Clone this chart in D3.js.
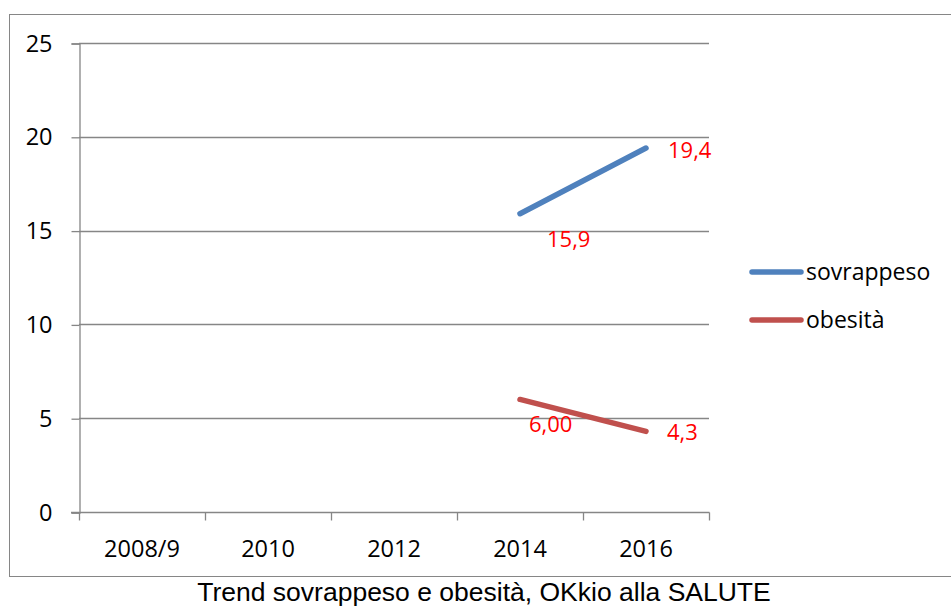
<!DOCTYPE html>
<html>
<head>
<meta charset="utf-8">
<script src="https://cdn.jsdelivr.net/npm/d3@7"></script>
<style>
  body { margin: 0; background: #fff; }
  svg { display: block; }
</style>
</head>
<body>
<script>
const years = ["2008/9", "2010", "2012", "2014", "2016"]
const sovrappeso = [null, null, null, 15.9, 19.4]
const obesita = [null, null, null, 6.0, 4.3]
const sovrLabels = [null, null, null, "15,9", "19,4"]
const obesLabels = [null, null, null, "6,00", "4,3"]
const yTicks = [0, 5, 10, 15, 20, 25]

const w = 951
const h = 606
const font = "'Open Sans', sans-serif"

const x = d3.scaleBand()
  .domain(years)
  .range([79, 709])

const y = d3.scaleLinear()
  .domain([0, 25])
  .range([512, 43])

const svg = d3.select("body")
  .append("svg")
  .attr("width", w)
  .attr("height", h)

// outer chart border
svg.append("rect")
  .attr("x", 9.5)
  .attr("y", 14.5)
  .attr("width", 945)
  .attr("height", 562)
  .attr("fill", "none")
  .attr("stroke", "#868686")
  .attr("stroke-width", 1)

// gridlines
svg.append("g")
  .selectAll("line")
  .data(yTicks.filter(d => d > 0))
  .enter()
  .append("line")
  .attr("x1", 79)
  .attr("x2", 709)
  .attr("y1", d => Math.round(y(d)) + 0.5)
  .attr("y2", d => Math.round(y(d)) + 0.5)
  .attr("stroke", "#868686")
  .attr("stroke-width", 1.3)

// y axis
const yAxis = d3.axisLeft(y).tickValues(yTicks).tickSize(8).tickPadding(19)
const gy = svg.append("g")
  .attr("transform", "translate(79.5,0.5)")
  .call(yAxis)
gy.select(".domain").attr("stroke", "#868686").attr("stroke-width", 1.3)
gy.selectAll(".tick line").attr("stroke", "#868686").attr("stroke-width", 1.3)
gy.selectAll("text")
  .attr("font-family", font)
  .attr("font-size", 23.5)
  .attr("fill", "#000")

// x axis (ticks on band boundaries)
const gx = svg.append("g")
  .attr("transform", "translate(0," + (y(0) + 0.5) + ")")
gx.append("line")
  .attr("x1", 71).attr("x2", 709.5)
  .attr("stroke", "#868686").attr("stroke-width", 1.3)
const bounds = years.map(d => x(d)).concat([x.range()[1]])
gx.selectAll(".tk")
  .data(bounds)
  .enter()
  .append("line")
  .attr("class", "tk")
  .attr("x1", d => Math.round(d) + 0.5)
  .attr("x2", d => Math.round(d) + 0.5)
  .attr("y1", 0)
  .attr("y2", 8)
  .attr("stroke", "#868686").attr("stroke-width", 1.3)
gx.selectAll("text")
  .data(years)
  .enter()
  .append("text")
  .attr("x", d => x(d) + x.bandwidth() / 2)
  .attr("y", 44)
  .attr("text-anchor", "middle")
  .attr("font-family", font)
  .attr("font-size", 23.5)
  .attr("fill", "#000")
  .text(d => d)

const cx = d => x(d) + x.bandwidth() / 2

const series = [
  { name: "sovrappeso", values: sovrappeso, labels: sovrLabels, color: "#4F81BD",
    offs: [null, null, null, [27, 33], [22, 10]] },
  { name: "obesità", values: obesita, labels: obesLabels, color: "#C0504D",
    offs: [null, null, null, [9, 33], [21, 9]] }
]

const line = d3.line()
  .defined(d => d.v != null)
  .x(d => cx(d.k))
  .y(d => y(d.v))

series.forEach(s => {
  const pts = years.map((k, i) => ({ k: k, v: s.values[i], l: s.labels[i], o: s.offs[i] }))
  svg.append("path")
    .datum(pts)
    .attr("d", line)
    .attr("fill", "none")
    .attr("stroke", s.color)
    .attr("stroke-width", 5.5)
    .attr("stroke-linecap", "round")

  svg.append("g")
    .selectAll("text")
    .data(pts.filter(d => d.v != null))
    .enter()
    .append("text")
    .attr("x", d => cx(d.k) + d.o[0])
    .attr("y", d => y(d.v) + d.o[1])
    .attr("font-family", font)
    .attr("font-size", 22)
    .attr("fill", "#FF0000")
    .text(d => d.l)
})

// legend
const lg = svg.append("g")
series.forEach((s, i) => {
  const ly = 272 + i * 48
  lg.append("line")
    .attr("x1", 752).attr("x2", 801)
    .attr("y1", ly).attr("y2", ly)
    .attr("stroke", s.color)
    .attr("stroke-width", 5.5)
    .attr("stroke-linecap", "round")
  lg.append("text")
    .attr("x", 806)
    .attr("y", ly + 8)
    .attr("font-family", font)
    .attr("font-size", 23)
    .attr("fill", "#000")
    .text(s.name)
})

// title
svg.append("text")
  .attr("x", 484)
  .attr("y", 601)
  .attr("text-anchor", "middle")
  .attr("font-family", "'Liberation Sans', Arial, sans-serif")
  .attr("font-size", 26.5)
  .attr("fill", "#000")
  .text("Trend sovrappeso e obesità, OKkio alla SALUTE")
</script>
</body>
</html>
